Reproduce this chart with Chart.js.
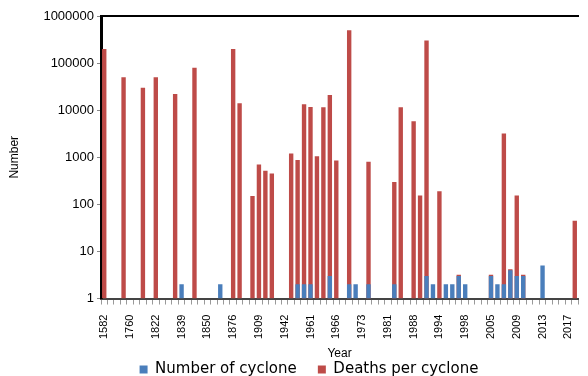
<!DOCTYPE html>
<html>
<head>
<meta charset="utf-8">
<script src="https://cdn.jsdelivr.net/npm/chart.js@4"></script>
<style>
  html, body { margin: 0; padding: 0; background: #fff; }
  #wrap { width: 588px; height: 376px; }
</style>
</head>
<body>
<div id="wrap"><canvas id="myChart" width="588" height="376"></canvas></div>
<script>
// Years (only every 4th one is labelled on the axis)
const years = [1582, 1584, 1585, 1699, 1760, 1765, 1767, 1797, 1822, 1824,
    1825, 1831, 1839, 1842, 1848, 1849, 1850, 1852, 1867, 1872,
    1876, 1897, 1898, 1901, 1909, 1913, 1917, 1919, 1942, 1948,
    1958, 1960, 1961, 1962, 1963, 1965, 1966, 1969, 1970, 1971,
    1973, 1974, 1975, 1977, 1981, 1983, 1985, 1986, 1988, 1989,
    1991, 1992, 1994, 1995, 1996, 1997, 1998, 2000, 2002, 2004,
    2005, 2006, 2007, 2008, 2009, 2010, 2011, 2012, 2013, 2014,
    2015, 2016, 2017, 2019]

// Number of cyclone
const cyclones = [1, 1, 1, 1, 1, 1, 1, 1, 1, 1,
    1, 1, 2, 1, 1, 1, 1, 1, 2, 1,
    1, 1, 1, 1, 1, 1, 1, 1, 1, 1,
    2, 2, 2, 1, 1, 3, 1, 1, 2, 2,
    1, 2, 1, 1, 1, 2, 1, 1, 1, 1,
    3, 2, 1, 2, 2, 3, 2, 1, 1, 1,
    3, 2, 2, 4, 3, 3, 1, 1, 5, 1,
    1, 1, 1, 1]

// Deaths per cyclone
const deaths = [200000, null, null, 50000, null, null, 30000, null, 50000, null,
    null, 22000, null, null, 80000, null, null, null, null, null,
    200000, 14000, null, 150, 700, 520, 450, null, null, 1200,
    870, 13400, 11700, 1050, 11500, 21000, 850, null, 500000, null,
    null, 800, null, null, null, 300, 11500, null, 5800, 155,
    300000, null, 190, null, null, 3.2, null, null, null, null,
    3.2, null, 3200, 4.2, 155, 3.2, null, null, null, null,
    null, null, null, 45]

const yTicks = [1, 10, 100, 1000, 10000, 100000, 1000000]

const ctx = document.getElementById('myChart')
const font = 'Liberation Sans'

// Default legend items, with some room after the first one
const legendLabels = chart => {
    const items = Chart.defaults.plugins.legend.labels.generateLabels(chart)
    items[0].text += '    '
    return items
}

new Chart(ctx, {
    type: 'bar',
    data: {
        labels: years,
        datasets: [{
            label: 'Number of cyclone',
            data: cyclones,
            backgroundColor: '#4A7EBB',
            categoryPercentage: 0.68,
            barPercentage: 1
        }, {
            label: 'Deaths per cyclone',
            data: deaths,
            backgroundColor: '#BE4B48',
            categoryPercentage: 0.68,
            barPercentage: 1
        }]
    },
    options: {
        responsive: false,
        animation: false,
        grouped: false,
        layout: {
            padding: { left: 40, right: 10, top: 8, bottom: -11 }
        },
        plugins: {
            tooltip: { enabled: false },
            legend: {
                position: 'bottom',
                labels: {
                    boxWidth: 8,
                    boxHeight: 8,
                    padding: 2,
                    color: '#000',
                    font: { family: 'DejaVu Sans', size: 15 },
                    generateLabels: legendLabels
                }
            }
        },
        scales: {
            x: {
                // no extra room for the rotated last label
                afterFit: axis => {
                    axis.paddingRight = 0
                },
                ticks: {
                    autoSkip: false,
                    minRotation: 90,
                    maxRotation: 90,
                    padding: 10,
                    color: '#000',
                    font: { family: font, size: 11 },
                    callback: (v, i) => i % 4 === 0 ? String(years[i]) : ''
                },
                grid: {
                    drawOnChartArea: false,
                    tickLength: 6,
                    color: '#999'
                },
                border: { color: '#444', width: 2 },
                title: {
                    display: true,
                    text: 'Year',
                    color: '#000',
                    padding: { top: -1, bottom: 0 },
                    font: { family: font, size: 12, lineHeight: 1 }
                }
            },
            x2: {
                position: 'top',
                ticks: { display: false },
                grid: { display: false },
                border: { color: '#000', width: 2 }
            },
            y: {
                type: 'logarithmic',
                min: 1,
                max: 1000000,
                afterBuildTicks: axis => {
                    axis.ticks = yTicks.map(v => ({ value: v }))
                },
                ticks: {
                    color: '#000',
                    padding: 3,
                    font: { family: font, size: 13 },
                    callback: v => String(v)
                },
                grid: {
                    drawOnChartArea: false,
                    tickLength: 4,
                    color: '#888'
                },
                border: { color: '#000', width: 3 },
                title: {
                    display: true,
                    text: 'Number',
                    color: '#000',
                    padding: { top: -33, bottom: 19 },
                    font: { family: font, size: 12 }
                }
            }
        }
    }
})
</script>
</body>
</html>
